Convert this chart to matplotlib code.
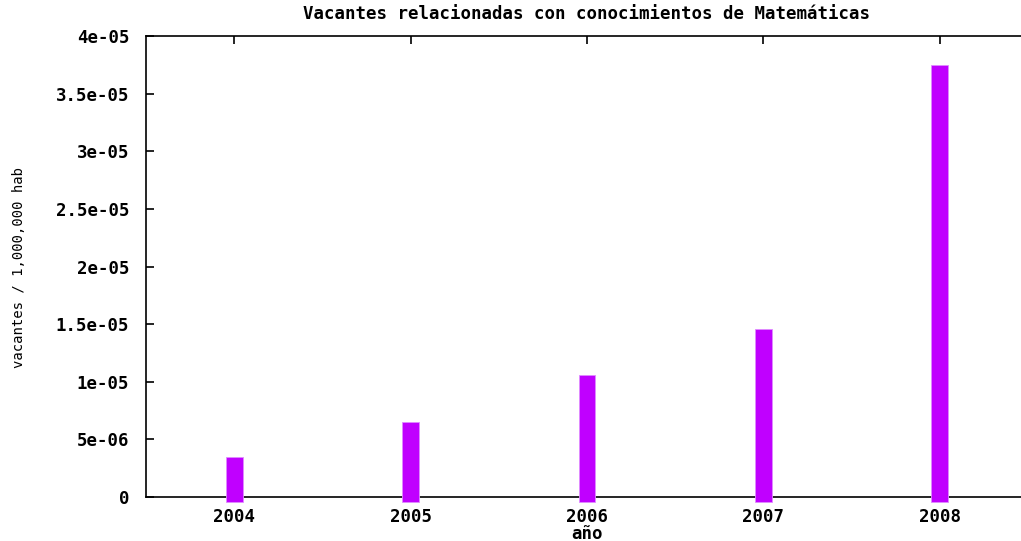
import matplotlib
matplotlib.use("Agg")
import matplotlib.pyplot as plt
from matplotlib.ticker import FuncFormatter, MultipleLocator

years = [2004, 2005, 2006, 2007, 2008]
values = [3.5e-06, 6.5e-06, 1.06e-05, 1.46e-05, 3.75e-05]
title = "Vacantes relacionadas con conocimientos de Matemáticas"
xlabel = "año"
ylabel = "vacantes / 1,000,000 hab"

bar_color = "#c000ff"
mono = "DejaVu Sans Mono"

fig = plt.figure(figsize=(10.21, 5.41), dpi=100)
ax = fig.add_axes([146 / 1021, 1 - 497 / 541, (1028 - 146) / 1021, (497 - 36) / 541])

# gnuplot-style impulses: thick lines that overhang the baseline slightly
overhang = 4.5e-07
ax.bar(years, [v + overhang for v in values], bottom=-overhang, width=0.095,
       color=bar_color, edgecolor="#e08cff", linewidth=0.6, zorder=4, clip_on=False)

ax.set_xlim(2003.5, 2008.5)
ax.set_ylim(0, 4e-05)
ax.set_xticks(years)
ax.yaxis.set_major_locator(MultipleLocator(5e-06))
ax.yaxis.set_major_formatter(FuncFormatter(lambda v, p: "%g" % v if abs(v) > 1e-12 else "0"))

for s in ax.spines.values():
    s.set_linewidth(1.2)
    s.set_color("black")
    s.set_zorder(3)

ax.tick_params(axis="both", direction="in", length=6, width=1.2, top=True, right=False,
               labelsize=12.5, colors="black")
ax.tick_params(axis="y", pad=12)
ax.tick_params(axis="x", pad=8)
for lab in ax.get_xticklabels() + ax.get_yticklabels():
    lab.set_fontfamily(mono)
    lab.set_fontweight("bold")

fig.text(586 / 1021, 1 - 14 / 541, title, ha="center", va="center",
         fontsize=12.5, fontfamily=mono, fontweight="bold")
fig.text(587 / 1021, 1 - 534 / 541, xlabel, ha="center", va="center",
         fontsize=12.5, fontfamily=mono, fontweight="bold")
fig.text(19 / 1021, 1 - 268 / 541, ylabel, ha="center", va="center", rotation=90,
         fontsize=10, fontfamily=mono)

fig.savefig("out.png", dpi=100)
